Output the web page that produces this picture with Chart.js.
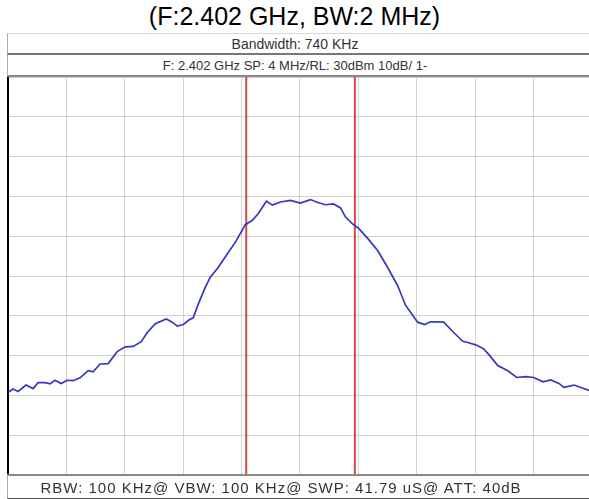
<!DOCTYPE html>
<html lang="en">
<head>
  <meta charset="UTF-8">
  <title>Spectrum (F:2.402 GHz, BW:2 MHz)</title>
  <script src="https://cdn.jsdelivr.net/npm/chart.js"></script>
  <style>
    html, body { margin: 0; padding: 0; background: #fff; }
    #wrap { position: relative; width: 589px; height: 499px; overflow: hidden; font-family: "Liberation Sans", Arial, sans-serif; }
    #title { position: absolute; left: 0; top: 0; width: 589px; height: 33px; line-height: 33px; text-align: center; font-size: 25px; color: #000; }
    .bar { position: absolute; left: 7px; width: 582px; box-sizing: border-box; text-align: center; color: #333; border-left: 1px solid #aaa; }
    .bar span { display: inline-block; margin-left: -7px; position: relative; }
    #bw { top: 33px; height: 22px; line-height: 21px; font-size: 14px; border-top: 1px solid #d8d8d8; border-bottom: 2px solid #777; }
    #info { top: 55px; height: 22px; line-height: 21px; font-size: 13px; border-bottom: 2px solid #888; }
    #foot { top: 474px; height: 25px; line-height: 24px; font-size: 15px; letter-spacing: 1px; border-top: 2px solid #888; border-bottom: 1px solid #555; }
    #foot span { left: -14px; }
    #plot { position: absolute; left: 0; top: 77px; width: 589px; height: 398px; }
  </style>
</head>
<body>
  <div id="wrap">
    <div id="title">(F:2.402 GHz, BW:2 MHz)</div>
    <div class="bar" id="bw"><span>Bandwidth: 740 KHz</span></div>
    <div class="bar" id="info"><span>F: 2.402 GHz SP: 4 MHz/RL: 30dBm 10dB/ 1-</span></div>
    <div id="plot"><canvas id="spectrum" width="589" height="398"></canvas></div>
    <div class="bar" id="foot"><span>RBW: 100 KHz@ VBW: 100 KHz@ SWP: 41.79 uS@ ATT: 40dB</span></div>
  </div>
  <script>
    // trace, frequency in MHz and level in dBm
    const freqMHz = [
      2400.000, 2400.034, 2400.069, 2400.123, 2400.172, 2400.206, 2400.254, 2400.288,
      2400.322, 2400.364, 2400.405, 2400.446, 2400.494, 2400.549, 2400.583, 2400.631,
      2400.686, 2400.748, 2400.803, 2400.858, 2400.913, 2400.954, 2401.009, 2401.084,
      2401.125, 2401.160, 2401.201, 2401.242, 2401.269, 2401.304, 2401.352, 2401.386,
      2401.441, 2401.503, 2401.558, 2401.626, 2401.674, 2401.715, 2401.770, 2401.811,
      2401.866, 2401.935, 2402.003, 2402.072, 2402.127, 2402.175, 2402.230, 2402.278,
      2402.312, 2402.360, 2402.401, 2402.470, 2402.532, 2402.600, 2402.669, 2402.724,
      2402.806, 2402.854, 2402.895, 2402.985, 2403.053, 2403.115, 2403.149, 2403.204,
      2403.259, 2403.300, 2403.355, 2403.424, 2403.485, 2403.547, 2403.602, 2403.664,
      2403.719, 2403.774, 2403.808, 2403.877, 2403.925, 2403.986
    ];
    const levelDbm = [
      -49.3, -48.4, -49.0, -47.4, -48.3, -46.8, -46.8, -47.1,
      -46.2, -47.0, -46.2, -46.3, -45.6, -43.8, -44.1, -42.1,
      -42.0, -39.0, -37.8, -37.7, -36.5, -34.2, -32.0, -30.8,
      -31.6, -32.6, -32.2, -31.0, -30.5, -27.0, -22.8, -20.3,
      -17.8, -14.4, -11.5, -7.1, -6.0, -4.3, -1.2, -2.2,
      -1.4, -1.0, -1.7, -0.8, -1.6, -2.1, -1.9, -2.9,
      -5.2, -6.9, -8.0, -10.8, -13.6, -17.8, -22.4, -27.4,
      -31.6, -32.2, -31.5, -31.6, -34.2, -36.4, -36.7, -37.3,
      -38.3, -40.0, -42.5, -43.8, -45.5, -45.3, -45.5, -46.6,
      -46.1, -47.0, -48.0, -47.4, -48.0, -48.8
    ];
    // bandwidth markers (MHz)
    const markerFreqs = [2401.632, 2402.376];
    // grid: 0.4 MHz / div, 10 dB / div from RL 30 dBm
    const gridFreqs = [2400.0, 2400.4, 2400.8, 2401.2, 2401.6, 2402.0, 2402.4, 2402.8, 2403.2, 2403.6];
    const refLevel = 30;
    const bottomLevel = -70;

    const trace = freqMHz.map((f, i) => ({ x: f, y: levelDbm[i] }));
    const markerSets = markerFreqs.map(f => ({
      data: [{ x: f, y: bottomLevel }, { x: f, y: refLevel }],
      borderColor: '#d94848',
      borderWidth: 2,
      pointRadius: 0,
      order: 1
    }));

    new Chart(document.getElementById('spectrum'), {
      type: 'line',
      data: {
        datasets: [{
          data: trace,
          borderColor: '#3636c0',
          borderWidth: 1.7,
          pointRadius: 0,
          tension: 0,
          order: 0
        }, ...markerSets]
      },
      options: {
        responsive: false,
        animation: false,
        layout: { padding: { left: 8, right: 0, top: 0, bottom: 0 } },
        plugins: { legend: { display: false }, tooltip: { enabled: false }, title: { display: false } },
        scales: {
          x: {
            type: 'linear',
            min: 2400,
            max: 2403.98,
            afterBuildTicks: scale => { scale.ticks = gridFreqs.map(v => ({ value: v })); },
            ticks: { display: false },
            grid: { color: '#d2d2d2', lineWidth: 1, drawTicks: false },
            border: { display: false }
          },
          y: {
            min: bottomLevel,
            max: refLevel,
            ticks: { display: false, stepSize: 10 },
            grid: { color: '#d2d2d2', lineWidth: 1, drawTicks: false },
            border: { display: true, color: '#000', width: 2 }
          }
        }
      }
    });
  </script>
</body>
</html>
